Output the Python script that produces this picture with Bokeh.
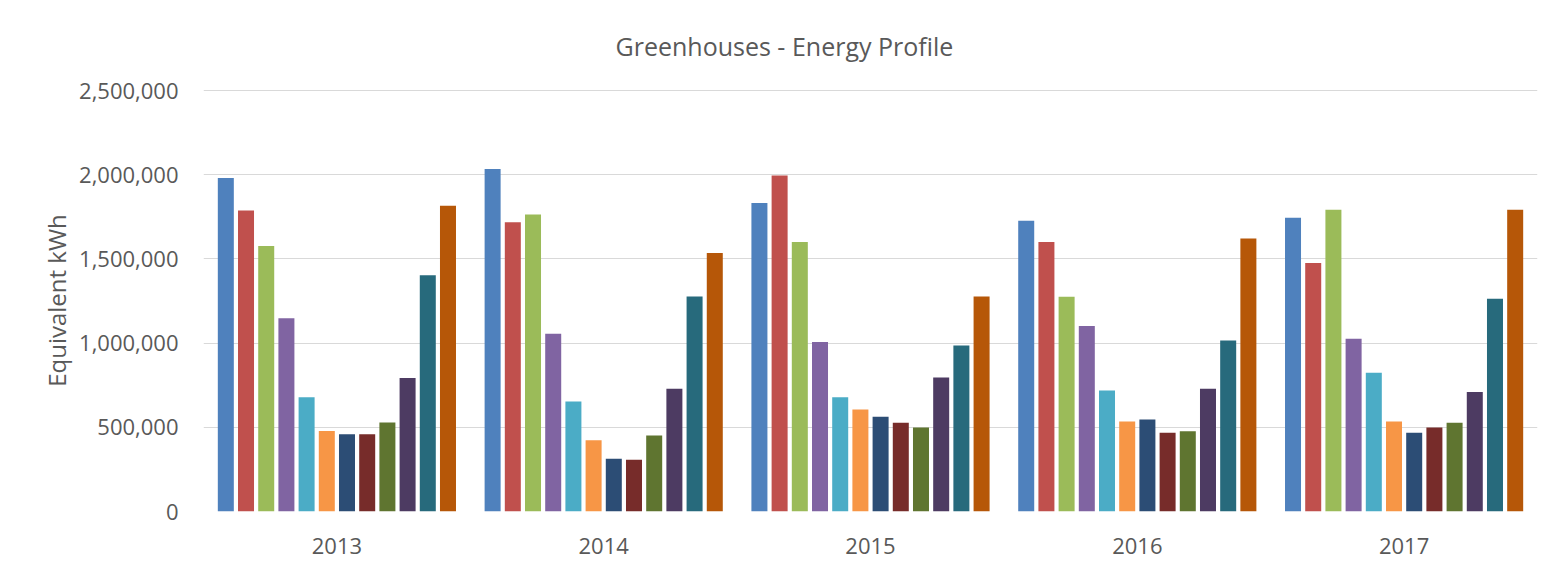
from bokeh.plotting import figure
from bokeh.models import FactorRange, Range1d, ColumnDataSource, NumeralTickFormatter, FixedTicker
from bokeh.transform import dodge
from bokeh.embed import file_html
from bokeh.resources import INLINE

years = ["2013", "2014", "2015", "2016", "2017"]
months = ["Jan", "Feb", "Mar", "Apr", "May", "Jun", "Jul", "Aug", "Sep", "Oct", "Nov", "Dec"]
y2013 = [1980000, 1788000, 1577000, 1147000, 678000, 478000, 458000, 458000, 528000, 793000, 1403000, 1816000]
y2014 = [2034000, 1717000, 1764000, 1056000, 653000, 423000, 313000, 307000, 451000, 729000, 1277000, 1535000]
y2015 = [1832000, 1996000, 1601000, 1006000, 679000, 605000, 563000, 527000, 499000, 796000, 986000, 1277000]
y2016 = [1727000, 1601000, 1275000, 1102000, 719000, 535000, 547000, 467000, 477000, 729000, 1016000, 1621000]
y2017 = [1745000, 1475000, 1792000, 1026000, 824000, 535000, 467000, 499000, 527000, 709000, 1263000, 1792000]
colors = ["#4F81BD", "#C0504D", "#9BBB59", "#8064A2", "#4BACC6", "#F79646",
          "#2C4D75", "#772C2A", "#5F7530", "#4D3B62", "#276A7C", "#B65708"]
tick_values = [0, 500000, 1000000, 1500000, 2000000, 2500000]
title_text = "Greenhouses  - Energy Profile"

rows = [y2013, y2014, y2015, y2016, y2017]
data = {"year": years}
for i, m in enumerate(months):
    data[m] = [r[i] for r in rows]
source = ColumnDataSource(data)

FONT = "Open Sans"
TXT = "#595959"

p = figure(x_range=FactorRange(*years), y_range=Range1d(0, 2506000),
           width=1554, height=571, output_backend="svg", toolbar_location=None,
           title=title_text,
           min_border_left=203, min_border_right=17, min_border_top=89, min_border_bottom=60)

pitch = 0.0757
bw = 0.06
for i, m in enumerate(months):
    p.vbar(x=dodge("year", (i - 5.5) * pitch, range=p.x_range), top=m, width=bw,
           source=source, color=colors[i], line_color=None)

p.title.align = "left"
p.title.offset = 412
p.title.text_font = FONT
p.title.text_font_size = "25px"
p.title.text_font_style = "normal"
p.title.text_color = TXT
p.title.standoff = 50
p.title.vertical_align = "top"

p.outline_line_color = None
p.background_fill_color = "white"
p.border_fill_color = "white"

p.xgrid.grid_line_color = None
p.ygrid.grid_line_color = "#D9D9D9"
p.ygrid.grid_line_width = 1
p.yaxis.ticker = FixedTicker(ticks=tick_values)
p.yaxis.formatter = NumeralTickFormatter(format="0,0")

for ax in (p.xaxis, p.yaxis):
    ax.axis_line_color = None
    ax.major_tick_line_color = None
    ax.minor_tick_line_color = None
    ax.major_label_text_font = FONT
    ax.major_label_text_font_size = "22px"
    ax.major_label_text_color = TXT

p.yaxis.major_label_standoff = 19
p.xaxis.major_label_standoff = 20
p.yaxis.axis_label = "Equivalent kWh"
p.yaxis.axis_label_text_font = FONT
p.yaxis.axis_label_text_font_size = "24px"
p.yaxis.axis_label_text_font_style = "normal"
p.yaxis.axis_label_text_color = TXT
p.yaxis.axis_label_standoff = 3
p.x_range.range_padding = 0

open("out.html", "w").write(file_html(p, INLINE))
